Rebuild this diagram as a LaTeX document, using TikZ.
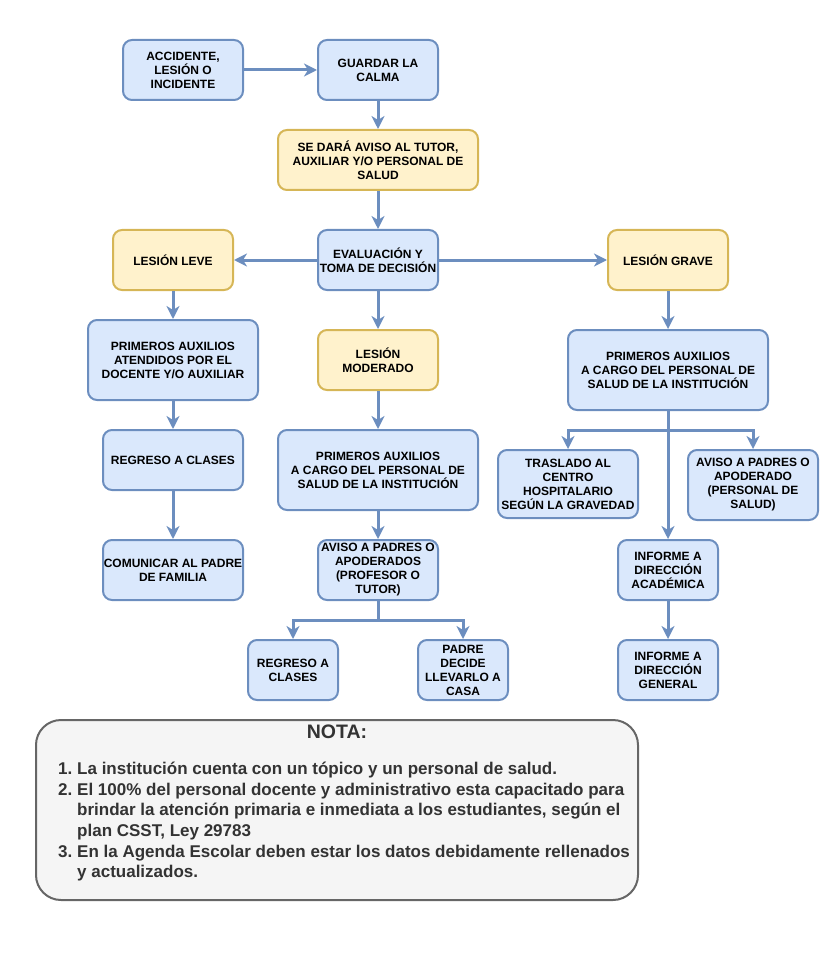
\documentclass[tikz,border=0pt]{standalone}
\usepackage{fontspec}
\setmainfont{Liberation Sans}
\usetikzlibrary{arrows.meta}

\definecolor{bluefill}{HTML}{DAE8FC}
\definecolor{bluedraw}{HTML}{6C8EBF}
\definecolor{yellowfill}{HTML}{FFF2CC}
\definecolor{yellowdraw}{HTML}{D6B656}
\definecolor{notefill}{HTML}{F5F5F5}
\definecolor{notedraw}{HTML}{666666}
\definecolor{notetext}{HTML}{333333}

\begin{document}
\begin{tikzpicture}[x=1pt,y=-1pt,
  box/.style={rounded corners=9pt,line width=2pt,align=center,inner sep=0pt,
    font=\fontsize{12}{14}\selectfont\bfseries,minimum width=120,minimum height=60},
  bluebox/.style={box,draw=bluedraw,fill=bluefill},
  yellowbox/.style={box,draw=yellowdraw,fill=yellowfill},
  arr/.style={-{Stealth[length=13pt,width=13pt,inset=4pt]},line width=3pt,draw=bluedraw}]

\useasboundingbox (0,0) rectangle (825,976);

\node[bluebox] (accidente) at (183,70) {ACCIDENTE,\\LESIÓN O\\INCIDENTE};

\node[bluebox] (calma) at (378,70) {GUARDAR LA\\CALMA};

\node[yellowbox,minimum width=200] (aviso) at (378,160) {SE DARÁ AVISO AL TUTOR,\\AUXILIAR Y/O PERSONAL DE\\SALUD};

\node[bluebox] (evaluacion) at (378,260) {EVALUACIÓN Y\\TOMA DE DECISIÓN};

\node[yellowbox] (leve) at (173,260) {LESIÓN LEVE};

\node[yellowbox] (grave) at (668,260) {LESIÓN GRAVE};

\node[yellowbox] (moderado) at (378,360) {LESIÓN\\MODERADO};

\node[bluebox,minimum width=170,minimum height=80] (leveaux) at (173,360) {PRIMEROS AUXILIOS\\ATENDIDOS POR EL\\DOCENTE Y/O AUXILIAR};

\node[bluebox,minimum width=200,minimum height=80] (graveaux) at (668,370) {PRIMEROS AUXILIOS\\A CARGO DEL PERSONAL DE\\SALUD DE LA INSTITUCIÓN};

\node[bluebox,minimum width=140] (levereg) at (173,460) {REGRESO A CLASES};

\node[bluebox,minimum width=140] (levecom) at (173,570) {COMUNICAR AL PADRE\\DE FAMILIA};

\node[bluebox,minimum width=200,minimum height=80] (modaux) at (378,470) {PRIMEROS AUXILIOS\\A CARGO DEL PERSONAL DE\\SALUD DE LA INSTITUCIÓN};

\node[bluebox] (modpadres) at (378,570) {AVISO A PADRES O\\APODERADOS\\(PROFESOR O\\TUTOR)};

\node[bluebox,minimum width=90] (modreg) at (293,670) {REGRESO A\\CLASES};

\node[bluebox,minimum width=90] (modcasa) at (463,670) {PADRE\\DECIDE\\LLEVARLO A\\CASA};

\node[bluebox,minimum width=140,minimum height=68] (traslado) at (568,484) {TRASLADO AL\\CENTRO\\HOSPITALARIO\\SEGÚN LA GRAVEDAD};

\node[bluebox,minimum width=130,minimum height=70] (gravepadres) at (753,485) {AVISO A PADRES O\\APODERADO\\(PERSONAL DE\\SALUD)};

\node[bluebox,minimum width=100] (academica) at (668,570) {INFORME A\\DIRECCIÓN\\ACADÉMICA};

\node[bluebox,minimum width=100] (general) at (668,670) {INFORME A\\DIRECCIÓN\\GENERAL};

\coordinate (busgrave) at (668,430);

\coordinate (busmod) at (378,620);

\draw[arr] (accidente) -- (calma);

\draw[arr] (calma) -- (aviso);

\draw[arr] (aviso) -- (evaluacion);

\draw[arr] (evaluacion) -- (leve);

\draw[arr] (evaluacion) -- (grave);

\draw[arr] (evaluacion) -- (moderado);

\draw[arr] (leve) -- (leveaux);

\draw[arr] (leveaux) -- (levereg);

\draw[arr] (levereg) -- (levecom);

\draw[arr] (moderado) -- (modaux);

\draw[arr] (modaux) -- (modpadres);

\draw[arr] (modpadres.south) -- (busmod) -| (modreg.north);

\draw[arr] (modpadres.south) -- (busmod) -| (modcasa.north);

\draw[arr] (grave) -- (graveaux);

\draw[arr] (graveaux.south) -- (busgrave) -| (traslado.north);

\draw[arr] (graveaux.south) -- (busgrave) -| (gravepadres.north);

\draw[arr] (graveaux.south) -- (academica.north);

\draw[arr] (academica) -- (general);

\draw[rounded corners=25pt,line width=2pt,draw=notedraw,fill=notefill] (36,720) rectangle (638,900);

\node[text=notetext,font=\fontsize{19.5}{24}\selectfont\bfseries] (nota) at (337,732) {NOTA:};

\node[text=notetext,font=\fontsize{17}{20.6}\selectfont\bfseries,align=left,anchor=north west,inner sep=0pt] (items) at (58,762) {%
\makebox[19pt][l]{1.}La institución cuenta con un tópico y un personal de salud.\\
\makebox[19pt][l]{2.}El 100\% del personal docente y administrativo esta capacitado para\\
\hspace*{19pt}brindar la atención primaria e inmediata a los estudiantes, según el\\
\hspace*{19pt}plan CSST, Ley 29783\\
\makebox[19pt][l]{3.}En la Agenda Escolar deben estar los datos debidamente rellenados\\
\hspace*{19pt}y actualizados.};

\end{tikzpicture}
\end{document}
